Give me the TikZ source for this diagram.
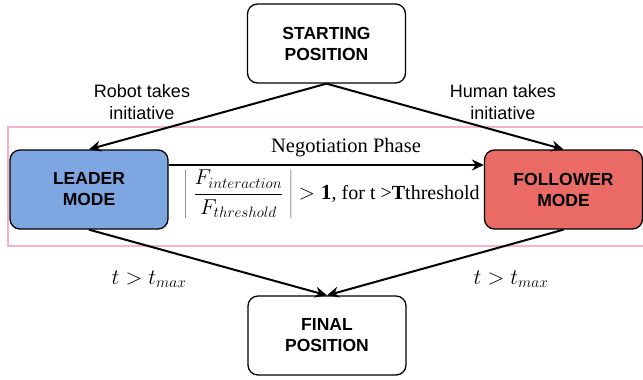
\documentclass[tikz,border=0pt]{standalone}
\usepackage{fix-cm}
\usepackage{fontspec}
\setmainfont{Liberation Serif}
\setsansfont{Liberation Sans}
\usetikzlibrary{arrows.meta,calc}
\definecolor{leaderblue}{HTML}{7EA6E0}
\definecolor{followerred}{HTML}{EA6B66}
\definecolor{pinkline}{HTML}{F4B3C7}
\begin{document}
\begin{tikzpicture}[x=1pt,y=-1pt,
  box/.style={draw=black, line width=1.3pt, rounded corners=10pt,
    minimum width=158pt, minimum height=79pt, align=center,
    font=\sffamily\bfseries\fontsize{17.5}{21}\selectfont},
  arr/.style={line width=2pt, -{Stealth[length=12pt,width=11pt,inset=4pt]}},
  lbl/.style={align=center, font=\sffamily\fontsize{18}{22.5}\selectfont},
  mlbl/.style={font=\fontsize{22}{26}\selectfont}]
\useasboundingbox (0,0) rectangle (643,380);
\draw[pinkline, line width=1.6pt] (8,127) rectangle (660,246);
\node[box] (start) at (326.5,43.5) {STARTING\\POSITION};
\node[box, fill=leaderblue] (leader) at (89,189.5) {LEADER\\MODE};
\node[box, fill=followerred] (follower) at (563.5,189.5) {FOLLOWER\\MODE};
\node[box] (final) at (327,335.5) {FINAL\\POSITION};
\draw[arr] (start.south) -- (leader.north);
\draw[arr] (start.south) -- (follower.north);
\draw[arr] (leader.south) -- (final.north);
\draw[arr] (follower.south) -- (final.north);
\draw[arr] (leader.east |- 0,165) -- (follower.west |- 0,165);
\node[lbl] (robot) at (142,102) {Robot takes\\initiative};
\node[lbl] (human) at (503,102) {Human takes\\initiative};
\node[font=\fontsize{20.5}{24}\selectfont] (neg) at (346,148) {Negotiation Phase};
\node[anchor=west, inner sep=0pt, font=\fontsize{20}{24}\selectfont] (cond) at (184,194)
  {{\fontsize{21.5}{26}\selectfont$\displaystyle\left|\;\frac{F_{interaction}}{F_{threshold}}\;\right| > \mathbf{1}$}, for t >\textbf{T}threshold};
\node[mlbl] (tl) at (149,279) {$t > t_{max}$};
\node[mlbl] (tr) at (511,279) {$t > t_{max}$};
\end{tikzpicture}
\end{document}
